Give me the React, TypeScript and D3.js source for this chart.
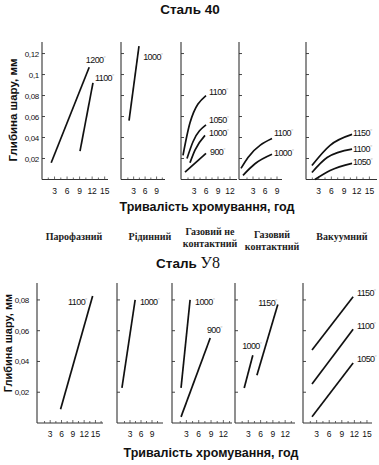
import React from "react";
import * as d3 from "d3";

// ---------- DATA ----------
const titleTop = "Сталь 40";
const titleBottomSans = "Сталь ";
const titleBottomSerif = "У8";
const xTitle = "Тривалість хромування, год";
const yTitle = "Глибина шару, мм";

const methods = ["Парофазний", "Рідинний", "Газовий не|контактний", "Газовий|контактний", "Вакуумний"];

const yTicksTop = [0.02, 0.04, 0.06, 0.08, 0.1, 0.12];
const yTickLabelsTop = ["0,02", "0,04", "0,06", "0,08", "0,1", "0,12"];
const yTicksBottom = [0.02, 0.04, 0.06, 0.08];
const yTickLabelsBottom = ["0,02", "0,04", "0,06", "0,08"];

const xTicksTop = [[3, 6, 9, 12, 15], [3, 6, 9], [3, 6, 9, 12], [3, 6, 9], [3, 6, 9, 12, 15]];
const xTicksBottom = [[3, 6, 9, 12, 15], [3, 6, 9], [3, 6, 9, 12], [3, 6, 9, 12], [3, 6, 9, 12, 15]];

type Series = { temp: string; pts: [number, number][]; label: [number, number] };

// Сталь 40
const s40Vapour: Series[] = [
  { temp: "1200", pts: [[2.2, 0.016], [11.3, 0.107]], label: [10.5, 0.114] },
  { temp: "1100", pts: [[9.1, 0.027], [12.2, 0.092]], label: [12.7, 0.097] },
];
const s40Liquid: Series[] = [
  { temp: "1000", pts: [[1.8, 0.056], [4.4, 0.127]], label: [5.5, 0.117] },
];
const s40GasNonContact: Series[] = [
  { temp: "1100", pts: [[0.25, 0.023], [2, 0.054], [6, 0.08]], label: [6.75, 0.0835] },
  { temp: "1050", pts: [[1.25, 0.02], [2.75, 0.036], [6, 0.052]], label: [6.75, 0.0566] },
  { temp: "1000", pts: [[2, 0.016], [3.25, 0.028], [5.75, 0.042]], label: [6.75, 0.0441] },
  { temp: "900", pts: [[0.75, 0.007], [6, 0.025]], label: [7.0, 0.026] },
];
const s40GasContact: Series[] = [
  { temp: "1100", pts: [[0, 0.0106], [1.75, 0.021], [7.75, 0.039]], label: [8.25, 0.044] },
  { temp: "1000", pts: [[0.5, 0.004], [3.5, 0.015], [7.75, 0.024]], label: [8.25, 0.025] },
];
const s40Vacuum: Series[] = [
  { temp: "1150", pts: [[1.4, 0.0134], [5.7, 0.0326], [10.9, 0.043]], label: [11.1, 0.044] },
  { temp: "1100", pts: [[1.4, 0.0067], [5.0, 0.021], [10.9, 0.029]], label: [11.1, 0.0288] },
  { temp: "1050", pts: [[2.1, 0.0], [5.7, 0.0086], [10.9, 0.0154]], label: [11.1, 0.0163] },
];

// Сталь У8
const u8Vapour: Series[] = [
  { temp: "1100", pts: [[5.75, 0.009], [14.25, 0.0826]], label: [7.75, 0.0787] },
];
const u8Liquid: Series[] = [
  { temp: "1000", pts: [[0.8, 0.0228], [4.4, 0.08]], label: [5.7, 0.0787] },
];
const u8GasNonContact: Series[] = [
  { temp: "1000", pts: [[1.7, 0.0228], [3.9, 0.08]], label: [5.1, 0.0787] },
  { temp: "900", pts: [[1.7, 0.004], [8.8, 0.0553]], label: [8.0, 0.0605] },
];
const u8GasContact: Series[] = [
  { temp: "1000", pts: [[2.0, 0.0228], [4.1, 0.044]], label: [1.5, 0.05] },
  { temp: "1150", pts: [[5.1, 0.031], [10.2, 0.077]], label: [5.4, 0.078] },
];
const u8Vacuum: Series[] = [
  { temp: "1150", pts: [[1.9, 0.0475], [11.7, 0.082]], label: [12.6, 0.0846] },
  { temp: "1100", pts: [[1.9, 0.0254], [11.7, 0.061]], label: [12.6, 0.063] },
  { temp: "1050", pts: [[1.9, 0.004], [11.7, 0.039]], label: [12.6, 0.0416] },
];

const topSeries = [s40Vapour, s40Liquid, s40GasNonContact, s40GasContact, s40Vacuum];
const bottomSeries = [u8Vapour, u8Liquid, u8GasNonContact, u8GasContact, u8Vacuum];

// x domains (hours) per panel
const topXDomains: [number, number][] = [[0, 15.8], [-0.3, 11.2], [-0.25, 13.75], [-0.5, 10.25], [0, 16.8]];
const bottomXDomains: [number, number][] = [[-0.5, 17], [-0.55, 12], [-0.5, 14.1], [-0.25, 14.4], [-0.25, 16.2]];

// ---------- LAYOUT ----------
const W = 379;
const H = 465;
const topXRanges: [number, number][] = [[42, 108], [121, 165], [181, 237], [239, 282], [306, 377]];
const bottomXRanges: [number, number][] = [[37, 103], [117, 163], [172, 232], [235, 295], [303, 372]];
const topY = d3.scaleLinear().domain([0, 0.131]).range([179.5, 42]);
const bottomY = d3.scaleLinear().domain([0, 0.091]).range([423, 283]);

const sans = "'Liberation Sans', Arial, sans-serif";
const serif = "'Liberation Serif', 'Times New Roman', serif";

function Panel({ xr, xd, y, series, xticks, yticks, ytickLabels, showYLabels, yLabelX }: any) {
  const x = d3.scaleLinear().domain(xd).range(xr);
  const [y0, y1] = y.range();
  const line = d3
    .line<[number, number]>()
    .x((d) => x(d[0]))
    .y((d) => y(d[1]))
    .curve(d3.curveMonotoneX);
  const minor: number[] = [];
  for (let h = 1.5; h < xd[1] - 0.3; h += 1.5) minor.push(h);
  return (
    <g>
      <line x1={xr[0]} x2={xr[0]} y1={y1} y2={y0} stroke="#333" strokeWidth={1.1} />
      <line x1={xr[0]} x2={xr[1]} y1={y0} y2={y0} stroke="#333" strokeWidth={1.1} />
      {minor.map((h) => (
        <line key={"m" + h} x1={x(h)} x2={x(h)} y1={y0} y2={y0 - (h % 3 === 0 ? 3 : 2)} stroke="#444" strokeWidth={0.8} />
      ))}
      {yticks.map((t: number) => (
        <line key={"yt" + t} x1={xr[0]} x2={xr[0] + 3} y1={y(t)} y2={y(t)} stroke="#333" strokeWidth={0.9} />
      ))}
      {xticks.map((t: number) => (
        <text key={"xl" + t} x={x(t)} y={y0 + 14} textAnchor="middle" fontFamily={sans} fontSize={8.5} fill="#111">
          {t}
        </text>
      ))}
      {showYLabels &&
        yticks.map((t: number, i: number) => (
          <text key={"yl" + t} x={yLabelX} y={y(t) + 3} textAnchor="end" fontFamily={sans} fontSize={8} fill="#111" letterSpacing={-0.3}>
            {ytickLabels[i]}
          </text>
        ))}
      {series.map((s: Series, i: number) => (
        <g key={i}>
          <path d={line(s.pts) || ""} fill="none" stroke="#111" strokeWidth={1.7} />
          <text x={x(s.label[0])} y={y(s.label[1])} dominantBaseline="central" fontFamily={sans} fontSize={9} fill="#111" letterSpacing={-0.6}>
            {s.temp}
            <tspan fontSize={7} fill="#aaa" dy={-4}>
              ◦
            </tspan>
          </text>
        </g>
      ))}
    </g>
  );
}

export default function App() {
  const methodX = [74, 150, 210, 272, 342];
  return (
    <svg width={W} height={H} style={{ position: "absolute", left: 0, top: 0, background: "#fff" }}>
      <rect width={W} height={H} fill="#fff" />
      <text x={190} y={14} textAnchor="middle" fontFamily={sans} fontSize={13.5} fontWeight="bold" fill="#111">
        {titleTop}
      </text>
      <text transform="translate(17,110) rotate(-90)" textAnchor="middle" fontFamily={sans} fontSize={11.5} fontWeight="bold" fill="#111">
        {yTitle}
      </text>
      {topSeries.map((s, i) => (
        <Panel key={"t" + i} xr={topXRanges[i]} xd={topXDomains[i]} y={topY} series={s} xticks={xTicksTop[i]} yticks={yTicksTop} ytickLabels={yTickLabelsTop} showYLabels={i === 0} yLabelX={39} />
      ))}
      <text x={207} y={211} textAnchor="middle" fontFamily={sans} fontSize={12.5} fontWeight="bold" fill="#111">
        {xTitle}
      </text>
      {methods.map((m, i) => {
        const parts = m.split("|");
        const baseY = parts.length === 1 ? 240 : i === 2 ? 235 : 238;
        return (
          <text key={"mt" + i} textAnchor="middle" fontFamily={serif} fontSize={10} fontWeight="bold" fill="#222">
            {parts.map((p, j) => (
              <tspan key={j} x={methodX[i]} y={baseY + j * 12}>
                {p}
              </tspan>
            ))}
          </text>
        );
      })}
      <text x={188} y={268} textAnchor="middle" fill="#111">
        <tspan fontFamily={sans} fontSize={13.5} fontWeight="bold">
          {titleBottomSans}
        </tspan>
        <tspan fontFamily={serif} fontSize={16}>
          {titleBottomSerif}
        </tspan>
      </text>
      <text transform="translate(12,343) rotate(-90)" textAnchor="middle" fontFamily={sans} fontSize={11} fontWeight="bold" fill="#111">
        {yTitle}
      </text>
      {bottomSeries.map((s, i) => (
        <Panel key={"b" + i} xr={bottomXRanges[i]} xd={bottomXDomains[i]} y={bottomY} series={s} xticks={xTicksBottom[i]} yticks={yTicksBottom} ytickLabels={yTickLabelsBottom} showYLabels={i === 0} yLabelX={29} />
      ))}
      <text x={211} y={457} textAnchor="middle" fontFamily={sans} fontSize={12.5} fontWeight="bold" fill="#111">
        {xTitle}
      </text>
    </svg>
  );
}
